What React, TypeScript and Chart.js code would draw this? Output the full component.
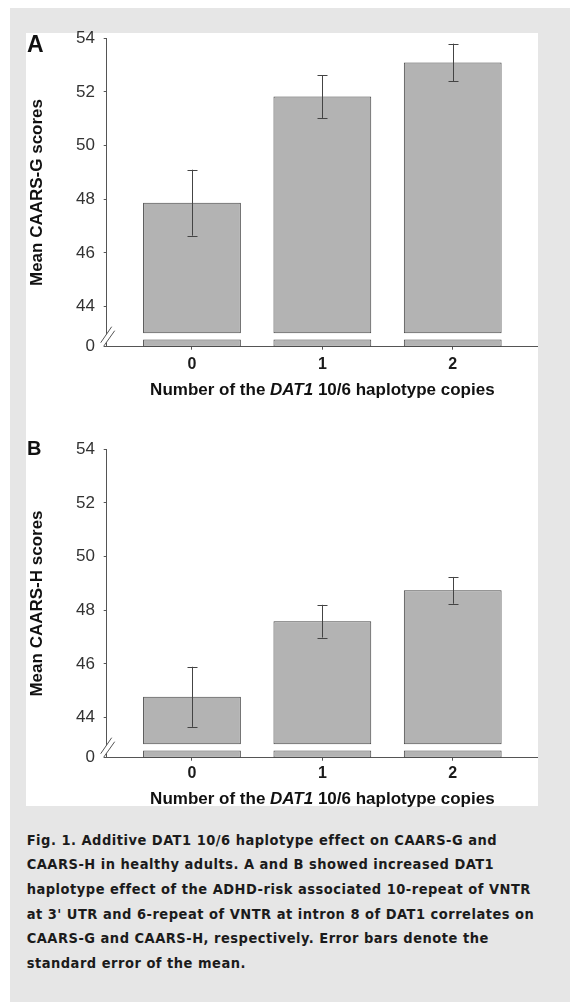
import React, { useEffect, useRef } from 'react';
import { Chart, registerables } from 'chart.js';

Chart.register(...registerables);

// ---- data ----
const categories = [0, 1, 2];
const xTickLabels = ['0', '1', '2'];
const yTickValues = [44, 46, 48, 50, 52, 54];
const meanG = [47.87, 51.83, 53.1];
const seG = [1.23, 0.8, 0.7];
const meanH = [44.77, 47.59, 48.74];
const seH = [1.12, 0.61, 0.5];
const captionLines = [
  'Fig. 1. Additive DAT1 10/6 haplotype effect on CAARS-G and',
  'CAARS-H in healthy adults. A and B showed increased DAT1',
  'haplotype effect of the ADHD-risk associated 10-repeat of VNTR',
  "at 3' UTR and 6-repeat of VNTR at intron 8 of DAT1 correlates on",
  'CAARS-G and CAARS-H, respectively. Error bars denote the',
  'standard error of the mean.',
];

// broken axis: bottom of the axis is labelled "0"
const Y_MIN = 42.5;
const STUB_TOP = 42.77;
const BREAK_START = 43;
const Y_MAX = 54;
const X_MIN = -0.654;
const X_MAX = 2.654;

const FAM = '"Liberation Sans", Arial, sans-serif';
const BAR_FILL = '#b3b3b3';
const BAR_BORDER = '#444444';
const AXIS = '#555555';

type PanelProps = {
  top: number;
  letter: string;
  letterSize: number;
  letterBaseline: number;
  yTitle: string;
  means: number[];
  ses: number[];
  xTickPad: number;
  xTitleOffset: number;
};

function Panel(p: PanelProps) {
  const ref = useRef<HTMLCanvasElement | null>(null);
  useEffect(() => {
    if (!ref.current) return;
    const decor = {
      id: 'decor',
      afterDatasetsDraw(chart: any) {
        const ctx = chart.ctx;
        const xs = chart.scales.x;
        const ys = chart.scales.y;
        const area = chart.chartArea;
        ctx.save();
        // error bars
        ctx.strokeStyle = '#444';
        ctx.lineWidth = 1;
        categories.forEach((c, i) => {
          const x = Math.round(xs.getPixelForValue(c)) + 0.5;
          const yt = ys.getPixelForValue(p.means[i] + p.ses[i]);
          const yb = ys.getPixelForValue(p.means[i] - p.ses[i]);
          ctx.beginPath();
          ctx.moveTo(x, yt);
          ctx.lineTo(x, yb);
          ctx.moveTo(x - 5, Math.round(yt) + 0.5);
          ctx.lineTo(x + 5, Math.round(yt) + 0.5);
          ctx.moveTo(x - 5, Math.round(yb) + 0.5);
          ctx.lineTo(x + 5, Math.round(yb) + 0.5);
          ctx.stroke();
        });
        // axis break marks
        const ax = area.left;
        const b = area.bottom;
        ctx.fillStyle = '#ffffff';
        ctx.beginPath();
        ctx.moveTo(ax - 6, b - 4);
        ctx.lineTo(ax + 5, b - 20);
        ctx.lineTo(ax + 8, b - 16);
        ctx.lineTo(ax - 3, b - 0.5);
        ctx.closePath();
        ctx.fill();
        ctx.strokeStyle = '#555';
        ctx.beginPath();
        ctx.moveTo(ax - 6, b - 4);
        ctx.lineTo(ax + 5, b - 20);
        ctx.moveTo(ax - 3, b - 0.5);
        ctx.lineTo(ax + 8, b - 16);
        ctx.stroke();
        // panel letter
        ctx.fillStyle = '#111';
        ctx.textAlign = 'left';
        ctx.textBaseline = 'alphabetic';
        ctx.font = `bold ${p.letterSize}px ${FAM}`;
        ctx.fillText(p.letter, 1, p.letterBaseline);
        // y title
        ctx.save();
        ctx.translate(15.5, (area.top + area.bottom) / 2);
        ctx.rotate(-Math.PI / 2);
        ctx.textAlign = 'center';
        ctx.font = `bold 17px ${FAM}`;
        ctx.fillText(p.yTitle, 0, 0);
        ctx.restore();
        // x title with italic gene name
        const parts = [
          { t: 'Number of the ', f: `bold 17px ${FAM}` },
          { t: 'DAT1', f: `italic bold 17px ${FAM}` },
          { t: ' 10/6 haplotype copies', f: `bold 17px ${FAM}` },
        ];
        let total = 0;
        parts.forEach((pt) => {
          ctx.font = pt.f;
          total += ctx.measureText(pt.t).width;
        });
        let cx = (area.left + area.right) / 2 - total / 2;
        const ty = b + p.xTitleOffset;
        ctx.textBaseline = 'middle';
        parts.forEach((pt) => {
          ctx.font = pt.f;
          ctx.fillText(pt.t, cx, ty);
          cx += ctx.measureText(pt.t).width;
        });
        ctx.restore();
      },
    };
    const barStyle = {
      backgroundColor: BAR_FILL,
      borderColor: BAR_BORDER,
      borderWidth: 1,
      borderSkipped: false,
      grouped: false,
      barPercentage: 0.75,
      categoryPercentage: 1,
    };
    const chart = new Chart(ref.current, {
      type: 'bar',
      data: {
        datasets: [
          { ...barStyle, data: categories.map((c, i) => ({ x: c, y: [BREAK_START, p.means[i]] })) },
          { ...barStyle, data: categories.map((c) => ({ x: c, y: [Y_MIN, STUB_TOP] })) },
        ],
      } as any,
      options: {
        animation: false,
        responsive: false,
        maintainAspectRatio: false,
        layout: { padding: { top: 25.3, left: 0, right: 0, bottom: 0 } },
        plugins: { legend: { display: false }, tooltip: { enabled: false } },
        scales: {
          x: {
            type: 'linear',
            min: X_MIN,
            max: X_MAX,
            offset: false,
            afterBuildTicks: (s: any) => {
              s.ticks = categories.map((v) => ({ value: v }));
            },
            afterFit: (s: any) => {
              s.height = 68.3;
            },
            ticks: {
              autoSkip: false,
              maxRotation: 0,
              padding: p.xTickPad,
              color: '#1a1a1a',
              font: { family: FAM, size: 16, weight: 'bold' },
              callback: (v: any) => {
                const idx = categories.indexOf(Number(v));
                return idx >= 0 ? xTickLabels[idx] : '';
              },
            },
            grid: { display: true, offset: false, drawOnChartArea: false, drawTicks: true, tickLength: 3, color: AXIS },
            border: { display: true, color: AXIS, width: 1 },
          },
          y: {
            type: 'linear',
            min: Y_MIN,
            max: Y_MAX,
            afterBuildTicks: (s: any) => {
              s.ticks = [Y_MIN, ...yTickValues].map((v) => ({ value: v }));
            },
            afterFit: (s: any) => {
              s.width = 80.7;
            },
            ticks: {
              padding: 8.7,
              color: '#333',
              font: { family: FAM, size: 17 },
              callback: (v: any) => (Number(v) === Y_MIN ? '0' : String(v)),
            },
            grid: { display: true, drawOnChartArea: false, drawTicks: true, tickLength: 3, color: AXIS },
            border: { display: true, color: AXIS, width: 1 },
          },
        },
      } as any,
      plugins: [decor],
    });
    return () => chart.destroy();
  }, []);
  return (
    <canvas
      ref={ref}
      width={512}
      height={402}
      style={{ position: 'absolute', left: 16, top: p.top, width: 512, height: 402 }}
    />
  );
}

export default function App() {
  return (
    <div
      style={{
        position: 'absolute',
        left: 10,
        top: 8,
        width: 560,
        height: 994,
        background: '#e6e6e6',
        overflow: 'hidden',
      }}
    >
      <div style={{ position: 'absolute', left: 16, top: 25, width: 512, height: 773, background: '#ffffff' }} />
      <Panel
        top={5}
        letter="A"
        letterSize={23}
        letterBaseline={38.7}
        yTitle="Mean CAARS-G scores"
        means={meanG}
        ses={seG}
        xTickPad={5}
        xTitleOffset={43.6}
      />
      <Panel
        top={416}
        letter="B"
        letterSize={20}
        letterBaseline={31}
        yTitle="Mean CAARS-H scores"
        means={meanH}
        ses={seH}
        xTickPad={3.5}
        xTitleOffset={41.6}
      />
      {captionLines.map((line, i) => (
        <div
          key={i}
          style={{
            position: 'absolute',
            left: 16.7,
            top: 819.7 + i * 24.6,
            height: 24.6,
            lineHeight: '24.6px',
            whiteSpace: 'nowrap',
            fontFamily: '"DejaVu Sans Condensed", "DejaVu Sans", sans-serif',
            fontStretch: 'condensed',
            fontWeight: 'bold',
            fontSize: 14.5,
            letterSpacing: '0.5px',
            color: '#1b1b1b',
          }}
        >
          {line}
        </div>
      ))}
    </div>
  );
}
